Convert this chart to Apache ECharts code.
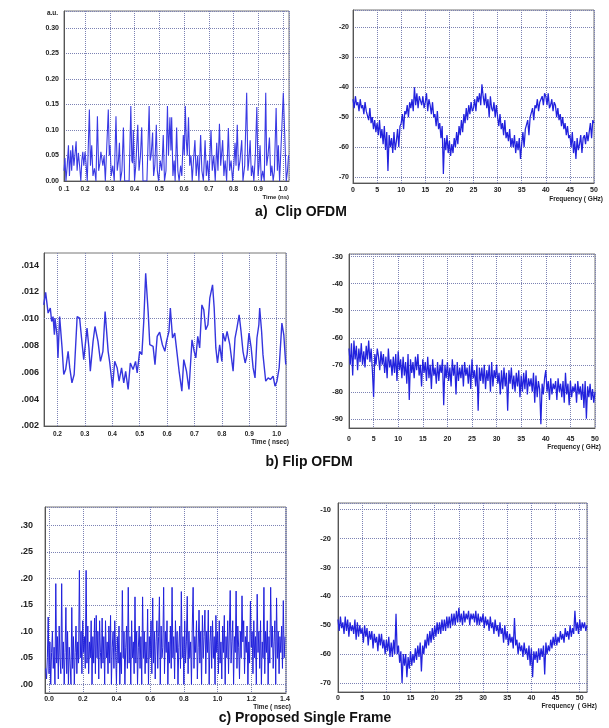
<!DOCTYPE html>
<html><head><meta charset="utf-8">
<script src="https://cdn.jsdelivr.net/npm/echarts@6/dist/echarts.min.js"></script>
<style>html,body{margin:0;padding:0;background:#fff}#c{width:609px;height:728px}</style>
</head><body><div id="c"></div>
<script>
// ---------- DATA ----------
// a) Clip OFDM, time signal: [time (ns), amplitude (a.u.)]
const clipTime = [[0.115,0.02],[0.119,0.045],[0.123,0],[0.128,0.03],[0.133,0.07],[0.137,0.01],[0.142,0.06],[0.146,0.02],[0.150,0.07],[0.155,0.03],[0.159,0.05],[0.164,0.078],[0.168,0.02],[0.173,0.055],[0.178,0.03],[0.183,0],[0.187,0.04],[0.191,0.057],[0.195,0.03],[0.200,0.057],[0.204,0.035],[0.209,0],[0.2175,0.14],[0.222,0.03],[0.227,0.07],[0.232,0.01],[0.238,0.025],[0.244,0],[0.250,0.127],[0.255,0.02],[0.260,0.035],[0.264,0.057],[0.267,0.055],[0.272,0.03],[0.277,0.05],[0.282,0],[0.288,0],[0.294,0.14],[0.298,0.05],[0.301,0.07],[0.306,0.01],[0.312,0.03],[0.318,0],[0.325,0.127],[0.330,0.02],[0.335,0.04],[0.339,0.075],[0.343,0],[0.349,0.02],[0.355,0.105],[0.360,0],[0.368,0],[0.378,0],[0.385,0.147],[0.389,0.04],[0.392,0.035],[0.395,0.1],[0.400,0],[0.405,0.03],[0.413,0.11],[0.418,0.02],[0.424,0.05],[0.429,0.105],[0.434,0],[0.442,0],[0.450,0],[0.459,0.147],[0.463,0.04],[0.467,0.05],[0.473,0.095],[0.477,0.01],[0.482,0.03],[0.488,0.11],[0.492,0.02],[0.497,0],[0.504,0.04],[0.510,0.02],[0.516,0.09],[0.521,0],[0.527,0.02],[0.533,0.147],[0.537,0.05],[0.543,0.125],[0.547,0.06],[0.550,0.125],[0.555,0.01],[0.560,0.04],[0.564,0],[0.570,0.105],[0.575,0.02],[0.580,0],[0.586,0.03],[0.591,0.01],[0.597,0.09],[0.601,0.05],[0.605,0.147],[0.609,0.08],[0.613,0.05],[0.618,0.125],[0.623,0.03],[0.628,0.05],[0.633,0],[0.638,0.04],[0.644,0.08],[0.649,0.01],[0.655,0.05],[0.660,0],[0.667,0.09],[0.672,0.02],[0.678,0],[0.685,0.08],[0.690,0.01],[0.695,0.04],[0.700,0],[0.709,0.1],[0.714,0.02],[0.720,0.05],[0.726,0],[0.732,0.075],[0.737,0.02],[0.743,0.112],[0.748,0.03],[0.756,0.08],[0.761,0.01],[0.766,0.04],[0.772,0],[0.779,0.104],[0.784,0.02],[0.790,0.04],[0.796,0],[0.801,0.03],[0.806,0.075],[0.810,0.03],[0.815,0.11],[0.820,0.02],[0.826,0.04],[0.833,0.08],[0.838,0],[0.845,0.03],[0.853,0.173],[0.858,0.02],[0.862,0.04],[0.867,0.08],[0.872,0.01],[0.877,0.03],[0.882,0],[0.888,0.05],[0.894,0.145],[0.899,0.01],[0.903,0.03],[0.907,0.07],[0.912,0],[0.918,0.02],[0.924,0],[0.930,0.173],[0.934,0.03],[0.939,0.05],[0.945,0.085],[0.950,0.01],[0.955,0.03],[0.960,0],[0.965,0.02],[0.972,0.143],[0.977,0.02],[0.981,0.07],[0.986,0],[0.993,0],[1.001,0.173],[1.005,0.17],[1.008,0.17],[1.013,0],[1.018,0.02],[1.022,0.05],[1.024,0.05]];

// a) Clip OFDM spectrum (dB), sampled every 0.25 GHz from 0 GHz
const clipSpecStep = 0.25;
const clipSpec = [-44,-47,-43,-46, -45,-48,-44,-47, -46,-49,-45,-48, -48,-51,-47,-52, -50,-54,-51,-55,
-52,-56,-51,-57, -54,-59,-53,-61, -55,-68,-56,-60, -57,-62,-55,-61, -58,-54,-60,-53,
-52,-49,-54,-48, -49,-46,-50,-45, -47,-44,-48,-40, -46,-42,-47,-43, -43,-46,-43,-47,
-45,-42,-48,-44, -46,-49,-45,-50, -49,-53,-48,-54, -52,-57,-53,-69, -57,-61,-56,-62,
-58,-63,-59,-62, -57,-60,-55,-59, -53,-56,-51,-55, -49,-52,-47,-51, -46,-49,-45,-48,
-47,-44,-48,-43, -45,-42,-46,-39, -43,-46,-42,-47, -44,-50,-43,-47, -48,-45,-50,-46,
-50,-53,-49,-54, -52,-56,-51,-57, -55,-58,-54,-60, -57,-60,-56,-62, -58,-61,-57,-64,
-59,-55,-60,-54, -54,-51,-56,-50, -50,-47,-51,-46, -47,-44,-48,-45, -45,-43,-46,-42,
-43,-46,-42,-47, -46,-44,-48,-45, -46,-50,-47,-51, -49,-53,-50,-54, -52,-56,-53,-57,
-56,-60,-55,-62, -58,-64,-57,-61, -59,-56,-62,-57, -56,-59,-55,-58, -55,-52,-57,-51, -52];

// b) Flip OFDM, time signal: [time (nsec), amplitude]
const flipTime = [[0.150,0.01103],[0.157,0.01197],[0.166,0.01042],[0.174,0.01079],[0.179,0.00979],[0.184,0.01016],[0.189,0.0088],[0.191,0.01004],[0.199,0.00868],[0.202,0.00708],[0.208,0.01016],[0.217,0.00782],[0.223,0.00584],[0.230,0.00621],[0.239,0.00757],[0.245,0.00633],[0.253,0.00522],[0.261,0.00584],[0.272,0.01016],[0.281,0.01004],[0.288,0.00856],[0.296,0.00695],[0.308,0.0093],[0.315,0.00782],[0.320,0.00608],[0.330,0.00831],[0.337,0.00942],[0.348,0.00831],[0.357,0.00682],[0.366,0.00757],[0.374,0.01053],[0.385,0.00757],[0.391,0.0067],[0.401,0.00485],[0.409,0.00682],[0.418,0.00633],[0.425,0.00534],[0.434,0.00633],[0.442,0.00522],[0.449,0.00608],[0.458,0.00472],[0.466,0.0067],[0.476,0.00621],[0.485,0.00682],[0.491,0.00596],[0.500,0.00757],[0.508,0.00732],[0.515,0.00979],[0.522,0.01338],[0.531,0.01053],[0.537,0.00806],[0.549,0.00794],[0.556,0.00658],[0.564,0.00868],[0.573,0.009],[0.583,0.00806],[0.592,0.00757],[0.598,0.00831],[0.607,0.00905],[0.612,0.01079],[0.620,0.00856],[0.628,0.00893],[0.637,0.00732],[0.644,0.00608],[0.654,0.0046],[0.661,0.00695],[0.671,0.00608],[0.680,0.00472],[0.691,0.00843],[0.699,0.00757],[0.705,0.00708],[0.712,0.00868],[0.719,0.00782],[0.727,0.01103],[0.734,0.01066],[0.741,0.00918],[0.749,0.00955],[0.756,0.01153],[0.761,0.01165],[0.766,0.01252],[0.772,0.01079],[0.778,0.00782],[0.784,0.0067],[0.792,0.00806],[0.800,0.00682],[0.804,0.00893],[0.812,0.00831],[0.819,0.00905],[0.829,0.00806],[0.835,0.00708],[0.841,0.00608],[0.848,0.00856],[0.855,0.0093],[0.863,0.01029],[0.870,0.00905],[0.877,0.00757],[0.885,0.0067],[0.892,0.00732],[0.899,0.00893],[0.907,0.00782],[0.914,0.00633],[0.921,0.00559],[0.928,0.00856],[0.935,0.00955],[0.938,0.01079],[0.945,0.00905],[0.950,0.00732],[0.960,0.00534],[0.969,0.00559],[0.977,0.00547],[0.987,0.00571],[0.994,0.00497],[1.001,0.00534],[1.009,0.00633],[1.019,0.00967],[1.026,0.0088],[1.033,0.00658]];
// dotted horizontal grid lines of panel b (left), as drawn in the figure
const flipTimeGrid = [0.014, 0.01228, 0.01056, 0.00884, 0.00712, 0.0054, 0.00368];

// b) Flip OFDM spectrum (dB), every 0.25 GHz from 0 GHz
const flipSpecStep = 0.25;
const flipSpec = [-64,-70,-62,-74, -61,-68,-63,-72, -64,-69,-62,-70, -65,-71,-63,-68, -61,-69,-64,-72,
-82,-66,-70,-64, -67,-72,-65,-70, -66,-73,-67,-75, -64,-71,-68,-74, -67,-73,-66,-76,
-65,-72,-68,-75, -67,-74,-69,-77, -66,-83,-68,-73, -69,-75,-67,-72, -66,-74,-70,-78,
-68,-73,-69,-76, -67,-75,-70,-79, -68,-74,-71,-77, -69,-76,-70,-73, -68,-85,-70,-75,
-69,-76,-71,-78, -68,-74,-70,-81, -69,-76,-71,-75, -70,-78,-69,-74, -71,-77,-70,-79,
-68,-75,-72,-78, -70,-87,-71,-76, -71,-77,-70,-79, -72,-76,-70,-80, -69,-78,-72,-75,
-70,-77,-73,-81, -72,-79,-71,-78, -73,-87,-72,-77, -71,-79,-74,-80, -73,-78,-72,-82,
-74,-80,-73,-79, -72,-81,-75,-78, -75,-80,-73,-84, -74,-82,-76,-79, -92,-77,-81,-75,
-72,-80,-76,-83, -75,-81,-77,-79, -76,-83,-75,-80, -77,-82,-76,-84, -73,-81,-77,-85,
-76,-82,-78,-80, -77,-84,-76,-81, -78,-83,-77,-86, -76,-90,-78,-82, -77,-83,-79,-84, -80];

// c) Proposed single frame, time signal, every 0.005 nsec from -0.02 nsec
const propTimeStart = -0.02, propTimeStep = 0.005;
const propTime = [
0.03,0.01,0.05,0.127,0.02,0.08,0.0,0.06,0.1,0.03,
0.07,0.0,0.19,0.04,0.09,0.01,0.11,0.05,0.02,0.19,
0.03,0.08,0.0,0.06,0.145,0.02,0.1,0.0,0.07,0.04,
0.0,0.145,0.03,0.09,0.0,0.06,0.11,0.02,0.08,0.04,
0.215,0.05,0.1,0.02,0.12,0.06,0.09,0.03,0.215,0.04,
0.11,0.02,0.08,0.05,0.12,0.0,0.09,0.04,0.125,0.02,
0.13,0.05,0.1,0.01,0.12,0.06,0.03,0.125,0.04,0.09,
0.0,0.12,0.05,0.08,0.02,0.11,0.04,0.13,0.0,0.07,
0.1,0.03,0.12,0.06,0.0,0.09,0.04,0.11,0.0,0.06,
0.02,0.177,0.05,0.1,0.0,0.07,0.11,0.03,0.183,0.04,
0.09,0.0,0.12,0.05,0.08,0.02,0.165,0.04,0.1,0.0,
0.07,0.11,0.03,0.09,0.0,0.165,0.05,0.1,0.02,0.08,
0.04,0.142,0.0,0.09,0.05,0.12,0.02,0.163,0.04,0.1,
0.01,0.08,0.12,0.03,0.09,0.165,0.0,0.11,0.05,0.07,
0.183,0.02,0.1,0.06,0.12,0.0,0.08,0.04,0.11,0.03,
0.183,0.05,0.09,0.01,0.12,0.06,0.1,0.0,0.07,0.11,
0.03,0.175,0.05,0.09,0.0,0.12,0.04,0.08,0.166,0.02,
0.1,0.05,0.08,0.0,0.11,0.183,0.03,0.09,0.06,0.12,
0.01,0.07,0.14,0.04,0.1,0.0,0.13,0.05,0.09,0.14,
0.02,0.1,0.06,0.14,0.0,0.08,0.11,0.03,0.12,0.05,
0.09,0.0,0.13,0.06,0.1,0.02,0.12,0.04,0.08,0.01,
0.11,0.06,0.13,0.0,0.09,0.05,0.12,0.02,0.1,0.177,
0.04,0.08,0.12,0.0,0.09,0.06,0.176,0.03,0.11,0.07,
0.01,0.1,0.05,0.167,0.08,0.12,0.02,0.09,0.06,0.11,
0.0,0.08,0.04,0.157,0.07,0.1,0.02,0.12,0.05,0.09,
0.0,0.17,0.06,0.1,0.03,0.12,0.0,0.08,0.05,0.183,
0.02,0.1,0.06,0.12,0.0,0.09,0.04,0.183,0.07,0.11,
0.03,0.08,0.12,0.0,0.163,0.05,0.1,0.02,0.09,0.06,
0.11,0.03,0.158,0.05,0.09];

// c) Proposed single frame spectrum (dB), every 0.25 GHz from 0 GHz
const propSpecStep = 0.25;
const propSpec = [-48,-52,-47,-51, -49,-53,-47,-52, -48,-54,-49,-52, -50,-53,-48,-55, -49,-54,-50,-53,
-51,-56,-50,-54, -51,-57,-52,-55, -52,-58,-53,-56, -54,-59,-53,-57, -53,-58,-55,-60,
-55,-59,-54,-61, -56,-61,-55,-60, -46,-60,-57,-63, -59,-70,-60,-64, -60,-68,-61,-65,
-59,-64,-60,-63, -58,-62,-57,-61, -56,-66,-57,-60, -55,-58,-53,-57, -52,-56,-51,-55,
-50,-54,-49,-53, -49,-53,-48,-52, -48,-52,-47,-51, -47,-51,-46,-50, -46,-50,-45,-49,
-44,-49,-46,-50, -45,-49,-46,-48, -45,-50,-46,-48, -46,-49,-45,-50, -46,-50,-47,-49,
-46,-51,-47,-50, -48,-52,-47,-51, -49,-53,-48,-52, -50,-54,-49,-53, -51,-56,-50,-55,
-52,-57,-53,-56, -54,-58,-47.5,-57, -55,-60,-56,-59, -57,-61,-56,-60, -58,-62,-57,-64,
-58,-68,-59,-62, -59,-63,-58,-62, -58,-61,-57,-67, -56,-60,-57,-59, -55,-58,-54,-57,
-53,-57,-54,-56, -52,-55,-53,-56, -51,-54,-52,-55, -50,-54,-51,-53, -45,-52,-49,-53,
-48,-52,-49,-51, -49,-52, -50];

// ---------- CHART ----------
const FONT = '"Liberation Sans", Arial, Helvetica, sans-serif';
const LINE = '#2222dd';
const GRIDLINE = {show:true, lineStyle:{type:'dotted', color:'#7c82b4', width:1}};
const stepPairs = (x0, dx, ys) => ys.map((y, i) => [+(x0 + i * dx).toFixed(4), y]);

const panels = [
  {g:{left:64, top:11, width:225, height:170},
   x:{min:0.115, max:1.024, iv:0.1, fs:6.5, m:5, smin:true, smax:false, fmt:v => v < 0.15 ? '0 .1' : v.toFixed(1)},
   y:{min:0, max:0.333, iv:0.05, fs:7, m:5, smin:true, smax:false, fmt:v => v.toFixed(2)},
   data: clipTime, w:1.1, c:'#3a3ae4'},
  {g:{left:353, top:10, width:241, height:173},
   x:{min:0, max:50, iv:5, fs:7, m:4, smin:true, smax:true, fmt:v => String(Math.round(v))},
   y:{min:-72, max:-14.2, iv:10, fs:7, m:4, smin:false, smax:false, fmt:v => String(Math.round(v))},
   data: stepPairs(0, clipSpecStep, clipSpec), w:1.25, c:LINE},
  {g:{left:44, top:253, width:242, height:173},
   x:{min:0.151, max:1.034, iv:0.1, fs:6.5, m:5, smin:false, smax:false, fmt:v => v.toFixed(1)},
   y:{min:0.002, max:0.0149, iv:0.002, fs:9, m:5, smin:true, smax:false, fmt:v => v.toFixed(3).replace(/^0/, ''), split:false},
   data: flipTime, w:1.4, c:'#3535de', grid: flipTimeGrid},
  {g:{left:349, top:254, width:246, height:174},
   x:{min:0, max:50, iv:5, fs:7, m:8, smin:true, smax:true, fmt:v => String(Math.round(v))},
   y:{min:-93.4, max:-29, iv:10, fs:7.5, m:6, smin:false, smax:false, fmt:v => String(Math.round(v))},
   data: stepPairs(0, flipSpecStep, flipSpec), w:1.25, c:LINE},
  {g:{left:45, top:507, width:241, height:186},
   x:{min:-0.024, max:1.406, iv:0.2, fs:7, m:3, smin:false, smax:false, fmt:v => v.toFixed(1)},
   y:{min:-0.0164, max:0.3346, iv:0.05, fs:9, m:12, smin:false, smax:false, fmt:v => v.toFixed(2).replace(/^0/, '')},
   data: stepPairs(propTimeStart, propTimeStep, propTime), w:1, c:LINE},
  {g:{left:338, top:503, width:249, height:189},
   x:{min:0, max:51.5, iv:5, fs:7, m:3, smin:true, smax:false, fmt:v => String(Math.round(v))},
   y:{min:-73.1, max:-7.7, iv:10, fs:7.5, m:7, smin:false, smax:false, fmt:v => String(Math.round(v))},
   data: stepPairs(0, propSpecStep, propSpec), w:1.25, c:LINE}
];

function axis(gi, o) {
  return {
    type:'value', gridIndex:gi, min:o.min, max:o.max,
    minInterval:o.iv, maxInterval:o.iv, splitNumber:Math.max(1, Math.round((o.max - o.min) / o.iv)),
    axisLine:{show:true, onZero:false, lineStyle:{color:'#555', width:1}},
    axisTick:{show:false},
    axisLabel:{show:true, fontSize:o.fs, fontWeight:'bold', fontFamily:FONT, color:'#222',
      margin:o.m, formatter:o.fmt, showMinLabel:o.smin, showMaxLabel:o.smax},
    splitLine: o.split === false ? {show:false} : GRIDLINE
  };
}

const txt = (x, y, text, size, align, color) => ({type:'text', x:x, y:y,
  style:{text:text, font:'bold ' + size + 'px ' + FONT, fill:color || '#222',
    align:align, verticalAlign:'middle', textAlign:align, textVerticalAlign:'middle'}});

const option = {
  animation:false,
  backgroundColor:'#fff',
  grid: panels.map(p => Object.assign({show:true, borderColor:'#777', borderWidth:1, containLabel:false, outerBoundsMode:'none'}, p.g)),
  xAxis: panels.map((p, i) => axis(i, p.x)),
  yAxis: panels.map((p, i) => axis(i, p.y)),
  series: panels.map((p, i) => {
    const s = {type:'line', xAxisIndex:i, yAxisIndex:i, data:p.data, symbol:'none', showSymbol:false,
      silent:true, clip:true, lineStyle:{color:p.c, width:p.w}, z:3};
    if (p.grid) {
      s.markLine = {silent:true, symbol:['none','none'], animation:false, label:{show:false},
        lineStyle:{type:'dotted', color:'#7c82b4', width:1}, z:1,
        data:p.grid.map(v => ({yAxis:v}))};
    }
    return s;
  }),
  graphic: [
    txt(52.5, 13.5, 'a.u.', 6.5, 'center'),
    txt(289, 197, 'Time (ns)', 6, 'right'),
    txt(603, 199, 'Frequency ( GHz)', 6.5, 'right'),
    txt(289, 442, 'Time ( nsec)', 6.5, 'right'),
    txt(601, 447, 'Frequency ( GHz)', 6.5, 'right'),
    txt(291, 707, 'Time ( nsec)', 6.5, 'right'),
    txt(597, 706, 'Frequency  ( GHz)', 6.5, 'right'),
    txt(301, 212, 'a)  Clip OFDM', 14, 'center', '#111'),
    txt(309, 462, 'b) Flip OFDM', 14, 'center', '#111'),
    txt(305, 718, 'c) Proposed Single Frame', 14, 'center', '#111')
  ]
};

const chart = echarts.init(document.getElementById('c'), null, {renderer:'canvas'});
chart.setOption(option);
</script>
</body></html>
